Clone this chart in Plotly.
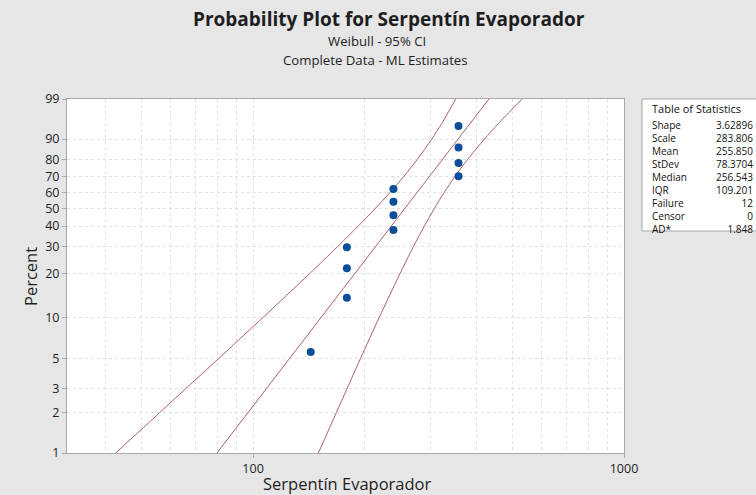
import numpy as np
import plotly.graph_objects as go

# ---- data ----
pct_points = [5.6, 13.7, 21.8, 29.8, 37.9, 46.0, 54.0, 62.1, 70.2, 78.2, 86.3, 94.4]
x_points = [143, 179, 179, 179, 239, 239, 239, 239, 358, 358, 358, 358]

fit_pct = [1, 99]
fit_x = [79.9, 432.3]

ci_pct = [1, 2, 3, 5, 10, 20, 30, 40, 50, 60, 70, 80, 90, 95, 99]
ci_lower_x = [42.6, 56.0, 65.7, 80.6, 106.5, 141.8, 168.8, 192.1, 213.6, 234.2, 254.8, 276.7, 303.1, 322.2, 351.8]
ci_upper_x = [150.0, 167.6, 179.0, 194.6, 218.9, 248.7, 270.4, 289.6, 308.2, 327.7, 350.0, 378.2, 420.7, 457.6, 531.5]

y_ticks = [1, 2, 3, 5, 10, 20, 30, 40, 50, 60, 70, 80, 90, 99]
x_ticks = [100, 1000]
x_minor = [40, 50, 60, 70, 80, 90, 200, 300, 400, 500, 600, 700, 800, 900]

stat_names = ["Shape", "Scale", "Mean", "StDev", "Median", "IQR", "Failure", "Censor", "AD*"]
stat_values = ["3.62896", "283.806", "255.850", "78.3704", "256.543", "109.201", "12", "0", "1.848"]


def wscale(p):
    p = np.asarray(p, dtype=float) / 100.0
    return np.log(-np.log(1.0 - p))


FONT = "Open Sans"
TXT = "#1E1E1E"
LINE_COL = "#AE6266"
GRID_COL = "#E0E0E0"
AX_COL = "#A8A8A8"
BG = "#E6E6E6"

W, H = 756, 495
L, R, T, B = 67, 132, 99, 42
PW, PH = W - L - R, H - T - B


def px(xp):
    return (xp - L) / PW


def py(yp):
    return (H - B - yp) / PH


fig = go.Figure()

for xs in (ci_lower_x, ci_upper_x):
    fig.add_trace(go.Scatter(x=xs, y=wscale(ci_pct), mode="lines",
                             line=dict(color=LINE_COL, width=1, shape="spline", smoothing=0.8),
                             hoverinfo="skip", showlegend=False))
fig.add_trace(go.Scatter(x=fit_x, y=wscale(fit_pct), mode="lines",
                         line=dict(color=LINE_COL, width=1), showlegend=False))
fig.add_trace(go.Scatter(x=x_points, y=wscale(pct_points), mode="markers",
                         marker=dict(color="#0B4F9C", size=8), showlegend=False))

fig.update_xaxes(type="log", range=[np.log10(31.5), 3], tickvals=x_ticks,
                 ticktext=[str(v) for v in x_ticks], ticks="outside", ticklen=4,
                 tickcolor=AX_COL, showline=True, linecolor=AX_COL, mirror=True,
                 showgrid=True, gridcolor=GRID_COL, griddash="3px,3px", gridwidth=1,
                 minor=dict(tickvals=x_minor, showgrid=True, gridcolor=GRID_COL,
                            griddash="3px,3px", ticks=""),
                 zeroline=False, automargin=False,
                 tickfont=dict(family=FONT, size=12.5, color=TXT))
fig.update_yaxes(range=[wscale(1)[()], wscale(99)[()]], tickvals=wscale(y_ticks),
                 ticktext=[str(v) for v in y_ticks], ticks="outside", ticklen=4,
                 tickcolor=AX_COL, showline=True, linecolor=AX_COL, mirror=True,
                 showgrid=True, gridcolor=GRID_COL, griddash="3px,3px", gridwidth=1,
                 zeroline=False, automargin=False,
                 tickfont=dict(family=FONT, size=12.5, color=TXT))

ann = []
ann.append(dict(text="<b>Probability Plot for Serpentín Evaporador</b>", x=px(389), y=py(19.5),
                xref="paper", yref="paper", showarrow=False, xanchor="center", yanchor="middle",
                borderpad=0, font=dict(family=FONT, size=19, color=TXT)))
ann.append(dict(text="Weibull - 95% CI", x=px(377), y=py(41.5),
                xref="paper", yref="paper", showarrow=False, xanchor="center", yanchor="middle",
                borderpad=0, font=dict(family=FONT, size=13.2, color=TXT)))
ann.append(dict(text="Complete Data - ML Estimates", x=px(375), y=py(59.5),
                xref="paper", yref="paper", showarrow=False, xanchor="center", yanchor="middle",
                borderpad=0, font=dict(family=FONT, size=13.2, color=TXT)))
ann.append(dict(text="Serpentín Evaporador", x=px(347), y=py(484), xref="paper", yref="paper",
                showarrow=False, xanchor="center", yanchor="middle",
                font=dict(family=FONT, size=16.5, color=TXT)))
ann.append(dict(text="Percent", x=px(30), y=py(277), xref="paper", yref="paper", textangle=-90,
                showarrow=False, xanchor="center", yanchor="middle",
                font=dict(family=FONT, size=16.5, color=TXT)))

# statistics table
ann.append(dict(text="Table of Statistics", x=px(651), y=py(109), xref="paper", yref="paper",
                showarrow=False, xanchor="left", yanchor="middle", borderpad=0,
                font=dict(family=FONT, size=11, color="#111111")))
ann.append(dict(text="<br>".join(stat_names), x=px(651), y=py(116.5), xref="paper", yref="paper",
                showarrow=False, xanchor="left", yanchor="top", align="left", borderpad=0,
                font=dict(family=FONT, size=10, color="#111111")))
ann.append(dict(text="<br>".join(stat_values), x=px(754), y=py(116.5), xref="paper", yref="paper",
                showarrow=False, xanchor="right", yanchor="top", align="right", borderpad=0,
                font=dict(family=FONT, size=10, color="#111111")))

shapes = [dict(type="rect", xref="paper", yref="paper", x0=px(642), x1=px(775),
               y0=py(231), y1=py(99), line=dict(color=AX_COL, width=1), fillcolor="white",
               layer="below")]

fig.update_layout(width=W, height=H, margin=dict(l=L, r=R, t=T, b=B),
                  paper_bgcolor=BG, plot_bgcolor="white", annotations=ann, shapes=shapes,
                  showlegend=False)

fig.write_html("out.html")
